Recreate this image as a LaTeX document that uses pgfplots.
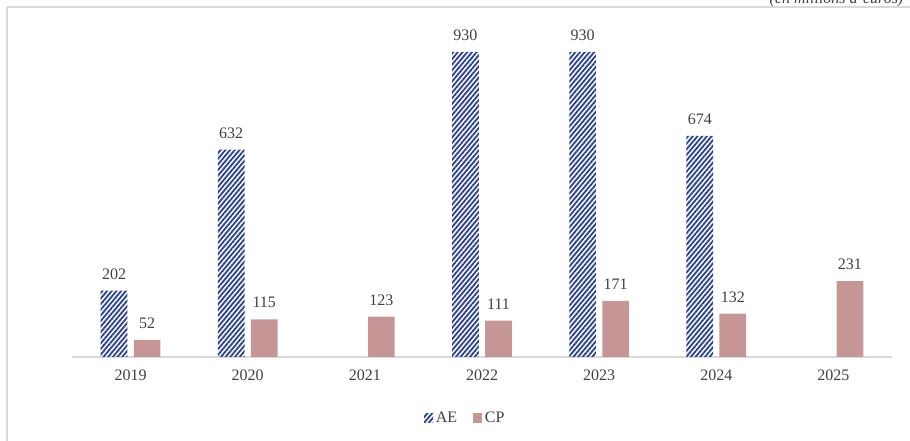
\documentclass[border=0pt]{standalone}
\usepackage{pgfplots}
\pgfplotsset{compat=1.18}
\usepackage{fontspec}
\setmainfont{Liberation Serif}
\usetikzlibrary{patterns.meta}
\definecolor{aecol}{RGB}{46,68,145}
\definecolor{cpcol}{RGB}{198,150,150}
\definecolor{lab}{RGB}{64,64,64}
\definecolor{frame}{RGB}{217,217,217}
\begin{document}
\begin{tikzpicture}[x=0.75pt,y=0.75pt]
% pixel (px,py) -> ((px-72), (357-py)) in 0.75pt units
\useasboundingbox (-72,357) rectangle (838,-84);
\begin{axis}[
  at={(0,0)}, anchor=south west,
  scale only axis, width=615pt, height=246pt,
  xmin=-0.5, xmax=6.5, ymin=0, ymax=1000,
  /pgf/number format/assume math mode=true,
  ybar, bar width=20pt,
  axis x line*=bottom, axis y line=none,
  x axis line style={color=frame, line width=1pt},
  xtick={0,...,6},
  xticklabels={\textrm{2019},\textrm{2020},\textrm{2021},\textrm{2022},\textrm{2023},\textrm{2024},\textrm{2025}},
  major tick length=0pt,
  xticklabel style={font=\fontsize{12}{14}\selectfont, text=lab, yshift=-6pt},
  nodes near coords,
  nodes near coords style={font=\fontsize{12}{14}\selectfont, text=lab, yshift=5pt},
  legend style={draw=none, at={(0.48,-0.186)}, anchor=center, legend columns=2,
    font=\fontsize{12}{14}\selectfont, text=lab,
    /tikz/every even column/.append style={column sep=10pt}},
  legend image code/.code={\draw[#1,draw=none] (0pt,-3.4pt) rectangle (6.8pt,3.4pt);},
]
\addplot[bar shift=-12.4pt, draw=none,
  pattern={Lines[angle=50,distance=2.7pt,line width=1.4pt]}, pattern color=aecol]
  coordinates {(0,202) (1,632) (3,930) (4,930) (5,674)};
\addplot[bar shift=12.4pt, draw=none, fill=cpcol]
  coordinates {(0,52) (1,115) (2,123) (3,111) (4,171) (5,132) (6,231)};
\legend{AE,CP}
\end{axis}
\draw[frame, line width=1.1pt] (-65,350) -- (850,350);
\draw[frame, line width=1.1pt] (-65,350) -- (-65,-100);
\node[anchor=base east, font=\itshape\fontsize{12}{14}\selectfont, text=lab] at (836,353) {(en millions d’euros)};
\end{tikzpicture}
\end{document}
